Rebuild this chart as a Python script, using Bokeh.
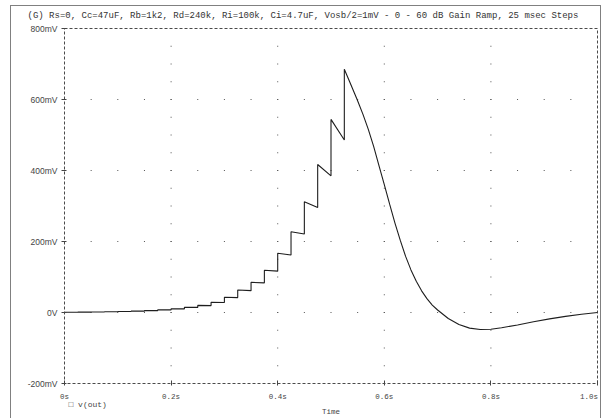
import numpy as np
from bokeh.plotting import figure
from bokeh.models import FixedTicker, Title, ColumnDataSource, Range1d
from bokeh.embed import file_html
from bokeh.resources import INLINE

title_text = ("(G) Rs=0, Cc=47uF, Rb=1k2, Rd=240k, Ri=100k, Ci=4.7uF, "
              "Vosb/2=1mV - 0 - 60 dB Gain Ramp, 25 msec Steps")
x_axis_title = "Time"
trace_name = "v(out)"
x_ticks = [0.0, 0.2, 0.4, 0.6, 0.8, 1.0]
x_tick_labels = ["0s", "0.2s", "0.4s", "0.6s", "0.8s", "1.0s\u00a0"]
y_ticks = [-200, 0, 200, 400, 600, 800]
y_tick_labels = ["-200mV", "0V", "200mV", "400mV", "600mV", "800mV"]
x_minor_step = 0.05
y_minor_step = 50

# gain-ramp staircase (s, mV): level just after each step and just before the next
step_t = [0.000, 0.025, 0.050, 0.075, 0.100, 0.125, 0.150, 0.175, 0.200, 0.225,
          0.250, 0.275, 0.300, 0.325, 0.350, 0.375, 0.400, 0.425, 0.450, 0.475, 0.500]
step_start = [0.7, 1.0, 1.4, 2.0, 2.8, 3.8, 5.3, 7.5, 10.5, 14.6,
              20.0, 28.7, 42.8, 63.4, 85.0, 119.0, 166.7, 227.6, 312.0, 417.0, 544.0]
step_end = [0.7, 1.0, 1.4, 2.0, 2.8, 3.8, 5.3, 7.4, 10.3, 14.3,
            19.5, 28.2, 42.0, 61.5, 83.5, 116.5, 162.0, 221.0, 296.0, 385.0, 486.0]

# recovery after the last step (s, mV)
decay_t = [0.525, 0.535, 0.549, 0.56, 0.57, 0.58, 0.59, 0.60, 0.61, 0.62, 0.63,
           0.64, 0.65, 0.66, 0.67, 0.68, 0.69, 0.70, 0.72, 0.74, 0.76, 0.78,
           0.80, 0.82, 0.85, 0.88, 0.91, 0.94, 0.97, 1.00]
decay_v = [685, 650, 600, 558, 516, 468, 414, 360, 305, 252, 203,
           158, 120, 88, 61, 39, 21, 7, -17, -34, -44, -48,
           -47, -43, -35, -26, -18, -11, -5, 0]

# build the trace path
tx, ty = [], []
for i, t0 in enumerate(step_t):
    t1 = step_t[i + 1] if i + 1 < len(step_t) else decay_t[0]
    tx += [t0, t1]
    ty += [step_start[i], step_end[i]]
tx += decay_t
ty += decay_v

FONT_MONO = "Liberation Mono"
LINE_GREY = "#808080"

p = figure(width=602, height=418, output_backend="svg", toolbar_location=None,
           x_range=Range1d(x_ticks[0], x_ticks[-1]),
           y_range=Range1d(y_ticks[0], y_ticks[-1]),
           min_border_left=64, min_border_right=5, min_border_top=28,
           min_border_bottom=35)
p.background_fill_color = "white"
p.border_fill_color = None
p.grid.visible = False
p.outline_line_color = "#4a4a4a"
p.outline_line_dash = "3 2"
p.outline_line_width = 1

# window frame drawn as CSS background behind the transparent border area
g = f"linear-gradient({LINE_GREY},{LINE_GREY})"
p.styles = {
    "background": (f"{g} 10px 5px / 1px 413px no-repeat, "
                   f"{g} 10px 5px / 591px 1px no-repeat, "
                   f"{g} 600px 5px / 1px 413px no-repeat, white"),
}

# title
p.title.text = title_text
p.title.text_font = FONT_MONO
p.title.text_font_size = "9px"
p.title.text_font_style = "normal"
p.title.text_color = "#333333"
p.title.align = "left"
p.title.vertical_align = "middle"
p.title.offset = -37
p.title.standoff = 13

# axes
p.xaxis.ticker = FixedTicker(ticks=x_ticks)
p.xaxis.major_label_overrides = {t: l for t, l in zip(x_ticks, x_tick_labels)}
p.yaxis.ticker = FixedTicker(ticks=y_ticks)
p.yaxis.major_label_overrides = {t: l for t, l in zip(y_ticks, y_tick_labels)}
for ax in (p.xaxis, p.yaxis):
    ax.axis_line_color = None
    ax.minor_tick_line_color = None
    ax.major_tick_line_color = "#444444"
    ax.major_label_text_color = "#444444"
p.xaxis.major_tick_in = 3
p.xaxis.major_tick_out = 2
p.yaxis.major_tick_in = 2
p.yaxis.major_tick_out = 3
p.xaxis.major_label_text_font = FONT_MONO
p.xaxis.major_label_text_font_size = "7.5px"
p.xaxis.major_label_standoff = 7
p.yaxis.major_label_text_font = "Liberation Sans"
p.yaxis.major_label_text_font_size = "8.5px"
p.yaxis.major_label_standoff = 4

# dotted grid (dots along major lines at minor spacing)
xm = np.arange(x_ticks[0] + x_minor_step, x_ticks[-1] - 1e-9, x_minor_step)
ym = np.arange(y_ticks[0] + y_minor_step, y_ticks[-1] - 1e-9, y_minor_step)
gx, gy = [], []
for yv in y_ticks[1:-1]:
    gx += list(xm)
    gy += [yv] * len(xm)
for xv in x_ticks[1:-1]:
    gx += [xv] * len(ym)
    gy += list(ym)
p.rect(x=gx, y=gy, width=1, height=1, width_units="screen", height_units="screen",
       fill_color="#555555", line_color=None)

# trace
src = ColumnDataSource(data=dict(t=tx, v=ty))
p.line("t", "v", source=src, line_color="#1e1e1e", line_width=1.1)

# trace key (marker + name) under the tick labels, then the axis title
key_title = Title(text="\u25a1 " + trace_name, align="left", offset=4,
                  vertical_align="top",
                  text_font=FONT_MONO, text_font_size="8px",
                  text_font_style="normal", text_color="#444444", standoff=-8)
p.add_layout(key_title, "below")
time_title = Title(text=x_axis_title, align="center", text_font=FONT_MONO,
                   text_font_size="7.5px", text_font_style="normal",
                   text_color="#444444", standoff=-1)
p.add_layout(time_title, "below")

open("out.html", "w").write(file_html(p, INLINE))
